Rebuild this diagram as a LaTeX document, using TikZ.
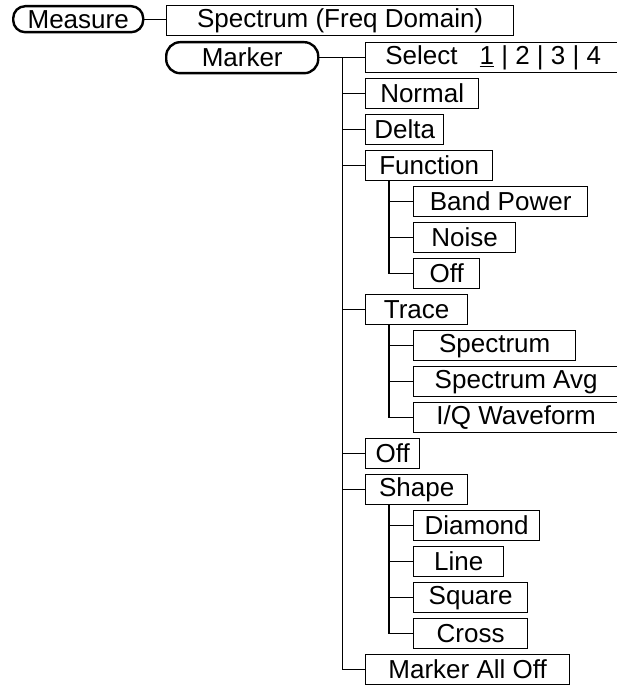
\documentclass[tikz,border=0pt]{standalone}
\usepackage{fontspec}
\setmainfont{Liberation Sans}
\usetikzlibrary{calc}

\tikzset{
  menubox/.style={draw, line width=1.3pt, inner sep=0pt, anchor=north west,
    minimum height=30pt, font=\fontsize{26}{30}\selectfont},
  softkey/.style={menubox, line width=2.4pt, rounded corners=12pt},
  branch/.style={draw, line width=1.3pt}
}

\begin{document}
\begin{tikzpicture}[x=1pt,y=-1pt]
   \useasboundingbox (0,0) rectangle (616,687);
   % top row
   \node[softkey, minimum width=130pt, minimum height=26pt] (measure) at (12,5) {Measure};
   \node[menubox, minimum width=347pt] (spec) at (166,5) {Spectrum (Freq Domain)};
   \node[softkey, minimum width=152pt, minimum height=31pt, rounded corners=14pt] (marker) at (165,41) {Marker};
   \node[menubox, minimum width=255pt] (select) at (365,42) {Select\hspace{0.85em}\underline{1} | 2 | 3 | 4};
   % marker menu
   \node[menubox, minimum width=113pt] (normal)    at (365,78)  {Normal};
   \node[menubox, minimum width=78pt]  (delta)     at (365,114) {Delta};
   \node[menubox, minimum width=127pt] (function)  at (365,150) {Function};
   \node[menubox, minimum width=174pt] (bandpower) at (413,186) {Band Power};
   \node[menubox, minimum width=102pt] (noise)     at (413,222) {Noise};
   \node[menubox, minimum width=66pt]  (fnoff)     at (413,258) {Off};
   \node[menubox, minimum width=102pt] (trace)     at (365,294) {Trace};
   \node[menubox, minimum width=162pt] (spectrum)  at (413,330) {Spectrum};
   \node[menubox, minimum width=205pt] (specavg)   at (413,366) {Spectrum Avg};
   \node[menubox, minimum width=205pt] (iq)        at (413,402) {I/Q Waveform};
   \node[menubox, minimum width=54pt]  (off)       at (365,438) {Off};
   \node[menubox, minimum width=102pt] (shape)     at (365,474) {Shape};
   \node[menubox, minimum width=126pt] (diamond)   at (413,510) {Diamond};
   \node[menubox, minimum width=90pt]  (line)      at (413,546) {Line};
   \node[menubox, minimum width=114pt] (square)    at (413,582) {Square};
   \node[menubox, minimum width=114pt] (cross)     at (413,618) {Cross};
   \node[menubox, minimum width=204pt] (alloff)    at (365,654) {Marker All Off};
   % connectors
   \draw[branch] (measure.east) -- (measure.east -| spec.west);
   \draw[branch] (marker.east) -- (marker.east -| select.west);
   \coordinate (mtrunk) at ($(marker.east)!0.5!(marker.east -| select.west)$);
   \foreach \n in {normal,delta,function,trace,off,shape,alloff}
      \draw[branch] (mtrunk) |- (\n.west);
   \foreach \p/\kids in {function/{bandpower,noise,fnoff},trace/{spectrum,specavg,iq},shape/{diamond,line,square,cross}}
      \foreach \n in \kids
         \draw[branch] ($(\p.south west)+(24,0)$) |- (\n.west);
\end{tikzpicture}
\end{document}
